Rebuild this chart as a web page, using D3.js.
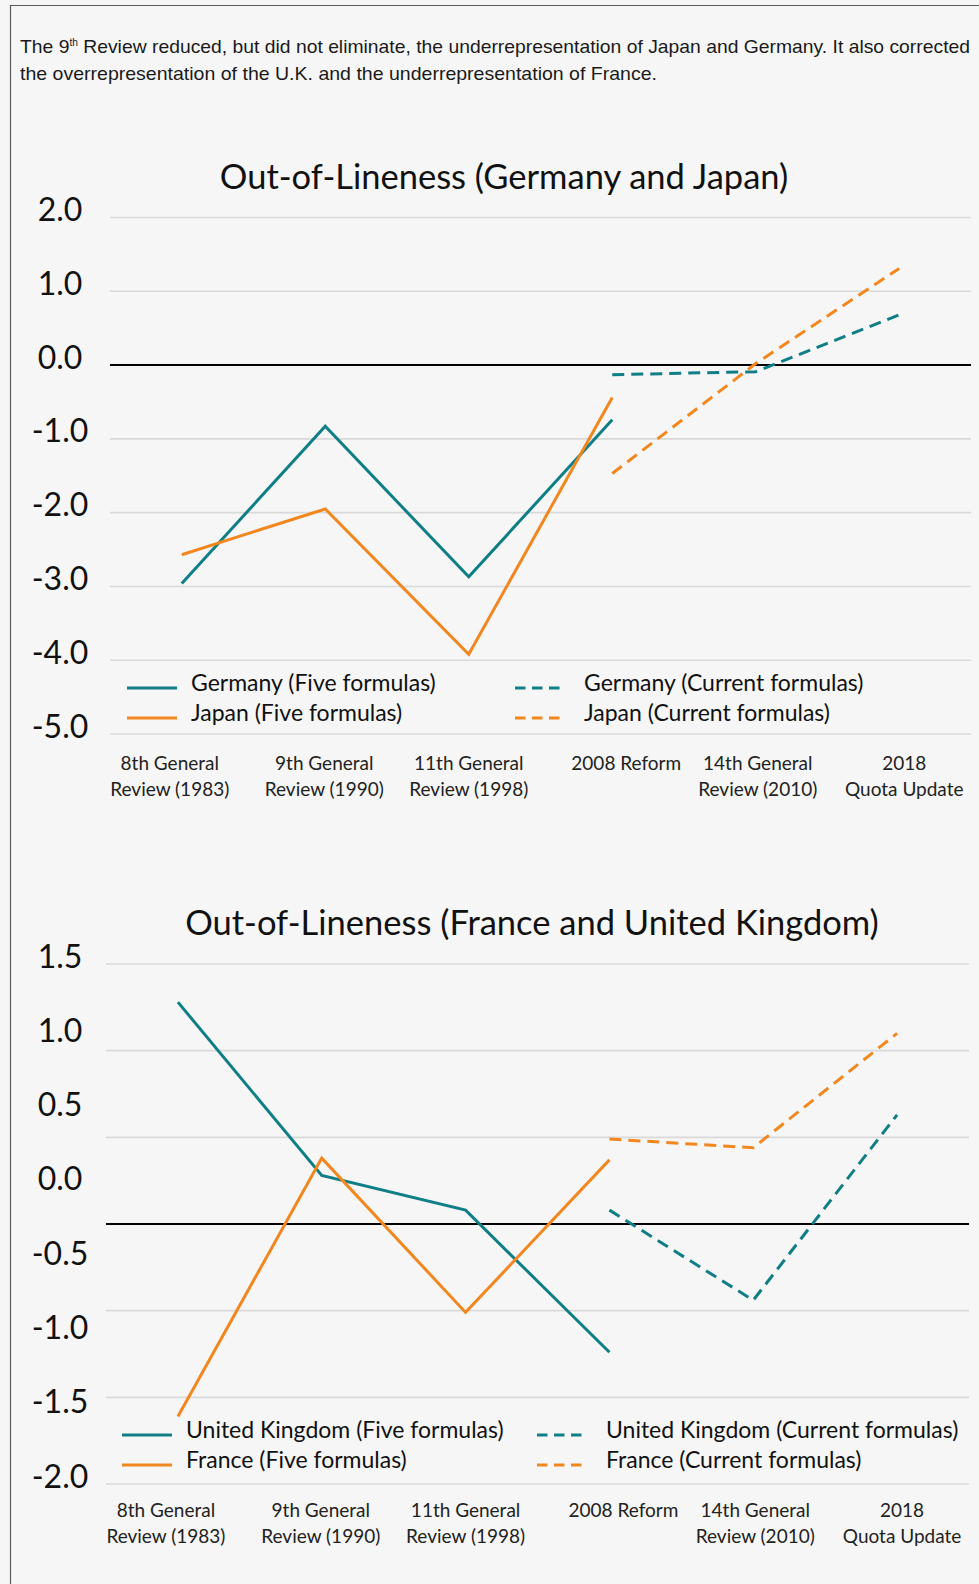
<!DOCTYPE html>
<html>
<head>
<meta charset="utf-8">
<script src="https://cdn.jsdelivr.net/npm/d3@7"></script>
<style>
  body { margin: 0; background: #f6f6f6; }
  svg { display: block; }
</style>
</head>
<body>
<div id="chart"></div>
<script>
// x categories (wrapped as in the original)
var categories = [
  ["8th General", "Review (1983)"],
  ["9th General", "Review (1990)"],
  ["11th General", "Review (1998)"],
  ["2008 Reform"],
  ["14th General", "Review (2010)"],
  ["2018", "Quota Update"]
];

// chart 1: Germany and Japan
var germanyFive    = [-2.96, -0.83, -2.87, -0.74, null, null];
var japanFive      = [-2.57, -1.95, -3.92, -0.44, null, null];
var germanyCurrent = [null, null, null, -0.13, -0.09, 0.68];
var japanCurrent   = [null, null, null, -1.47, 0.02, 1.31];
var ticks1 = [2, 1, 0, -1, -2, -3, -4, -5];

// chart 2: France and United Kingdom
var ukFive        = [1.28, 0.28, 0.08, -0.74, null, null];
var franceFive    = [-1.11, 0.38, -0.51, 0.37, null, null];
var ukCurrent     = [null, null, null, 0.08, -0.44, 0.63];
var franceCurrent = [null, null, null, 0.49, 0.44, 1.10];
var grid2  = [1.5, 1.0, 0.5, 0, -0.5, -1.0, -1.5];
var ticks2 = [1.5, 1.0, 0.5, 0.0, -0.5, -1.0, -1.5, -2.0];

var TEAL = "#0f7e86", ORANGE = "#f2871f";
var W = 979, H = 1584;
var labelNudge = [-12, -1, 0, 14, 2, 5];

var svg = d3.select("#chart").append("svg")
    .attr("width", W)
    .attr("height", H)
    .style("background", "#f6f6f6");

// frame
svg.append("path")
   .attr("d", "M10.5," + H + "V5.5H" + W)
   .style("fill", "none")
   .style("stroke", "#5a5a5a")
   .style("stroke-width", 1.2);

// intro text
var intro = svg.append("g")
    .style("font-family", "'Liberation Sans', Arial, sans-serif")
    .style("font-size", "19px")
    .style("fill", "#1a1a1a");
var l1 = intro.append("text").attr("x", 20).attr("y", 53)
    .attr("textLength", 950).attr("lengthAdjust", "spacingAndGlyphs");
l1.append("tspan").text("The 9");
l1.append("tspan").attr("dy", -7).style("font-size", "10px").text("th");
l1.append("tspan").attr("dy", 7).text(" Review reduced, but did not eliminate, the underrepresentation of Japan and Germany. It also corrected");
intro.append("text").attr("x", 20).attr("y", 80)
    .attr("textLength", 637).attr("lengthAdjust", "spacingAndGlyphs")
    .text("the overrepresentation of the U.K. and the underrepresentation of France.");

function drawChart(o) {
  var g = svg.append("g").style("font-family", "Lato, 'Open Sans', sans-serif");

  var x = d3.scalePoint().domain(d3.range(categories.length))
      .range([o.left, o.right]).padding(0.5);

  g.append("text")
   .attr("x", o.titleX).attr("y", o.titleY)
   .attr("text-anchor", "middle")
   .style("font-size", "34.5px").style("fill", "#111")
   .text(o.title);

  // gridlines
  g.append("g").selectAll("line")
   .data(o.grid.filter(function(d) { return d !== 0; }))
   .join("line")
   .attr("x1", o.left).attr("x2", o.right)
   .attr("y1", function(d) { return o.y(d); })
   .attr("y2", function(d) { return o.y(d); })
   .style("stroke", "#d9d9d9").style("stroke-width", 1.6);

  g.append("line")
   .attr("x1", o.left).attr("x2", o.right)
   .attr("y1", o.y(0)).attr("y2", o.y(0))
   .style("stroke", "#000").style("stroke-width", 2);

  // y labels
  var ax = g.append("g").attr("transform", "translate(60,0)")
      .call(d3.axisLeft(o.yLabel).tickValues(o.ticks).tickSize(0).tickPadding(0)
              .tickFormat(function(d) { return d.toFixed(1); }));
  ax.select(".domain").remove();
  ax.selectAll("text")
    .attr("text-anchor", "middle")
    .attr("dy", null).attr("y", 12)
    .style("font-family", "Lato, 'Open Sans', sans-serif")
    .style("font-size", "32px").style("fill", "#111");

  // x labels
  var xl = g.append("g").selectAll("text")
     .data(categories).join("text")
     .attr("text-anchor", "middle")
     .attr("transform", function(d, i) { return "translate(" + (x(i) + labelNudge[i]) + "," + o.xLabelY + ")"; })
     .style("font-size", "19px").style("fill", "#222");
  xl.selectAll("tspan").data(function(d) { return d; }).join("tspan")
     .attr("x", 0).attr("dy", function(d, i) { return i ? 26 : 0; })
     .text(function(d) { return d; });

  var line = d3.line()
      .defined(function(d) { return d != null; })
      .x(function(d, i) { return x(i); })
      .y(function(d) { return o.y(d); });

  o.series.forEach(function(s) {
    g.append("path")
     .datum(s.values)
     .attr("d", line)
     .style("fill", "none")
     .style("stroke", s.color)
     .style("stroke-width", 3)
     .style("stroke-dasharray", s.dashed ? "12,7" : null);
  });

  // legend
  var lg = g.append("g");
  o.series.forEach(function(s, i) {
    var col = s.dashed ? 1 : 0, row = i % 2;
    var lx = o.legendX[col], ly = o.legendY + row * 30;
    lg.append("line")
      .attr("x1", lx).attr("x2", lx + (s.dashed ? 45 : 50))
      .attr("y1", ly).attr("y2", ly)
      .style("stroke", s.color).style("stroke-width", 3)
      .style("stroke-dasharray", s.dashed ? "10.5,6.5" : null);
    lg.append("text")
      .attr("x", lx + (s.dashed ? 69 : 64)).attr("y", ly + 3)
      .style("font-size", "23px").style("fill", "#111")
      .text(s.name);
  });
}

drawChart({
  title: "Out-of-Lineness (Germany and Japan)",
  titleX: 504, titleY: 189,
  left: 110, right: 971,
  y: d3.scaleLinear().domain([-5, 2]).range([734, 217.5]),
  yLabel: d3.scaleLinear().domain([-5, 2]).range([734 - 9, 217.5 - 9]),
  grid: ticks1, ticks: ticks1,
  xLabelY: 770,
  legendX: [127, 515], legendY: 688,
  series: [
    {name: "Germany (Five formulas)", values: germanyFive, color: TEAL, dashed: false},
    {name: "Japan (Five formulas)", values: japanFive, color: ORANGE, dashed: false},
    {name: "Germany (Current formulas)", values: germanyCurrent, color: TEAL, dashed: true},
    {name: "Japan (Current formulas)", values: japanCurrent, color: ORANGE, dashed: true}
  ]
});

drawChart({
  title: "Out-of-Lineness (France and United Kingdom)",
  titleX: 532, titleY: 935,
  left: 106, right: 969,
  y: d3.scaleLinear().domain([-1.5, 1.5]).range([1484, 964]),
  yLabel: d3.scaleLinear().domain([-2, 1.5]).range([1484 - 9, 964 - 9]),
  grid: grid2, ticks: ticks2,
  xLabelY: 1517,
  legendX: [122, 537], legendY: 1435,
  series: [
    {name: "United Kingdom (Five formulas)", values: ukFive, color: TEAL, dashed: false},
    {name: "France (Five formulas)", values: franceFive, color: ORANGE, dashed: false},
    {name: "United Kingdom (Current formulas)", values: ukCurrent, color: TEAL, dashed: true},
    {name: "France (Current formulas)", values: franceCurrent, color: ORANGE, dashed: true}
  ]
});
</script>
</body>
</html>
